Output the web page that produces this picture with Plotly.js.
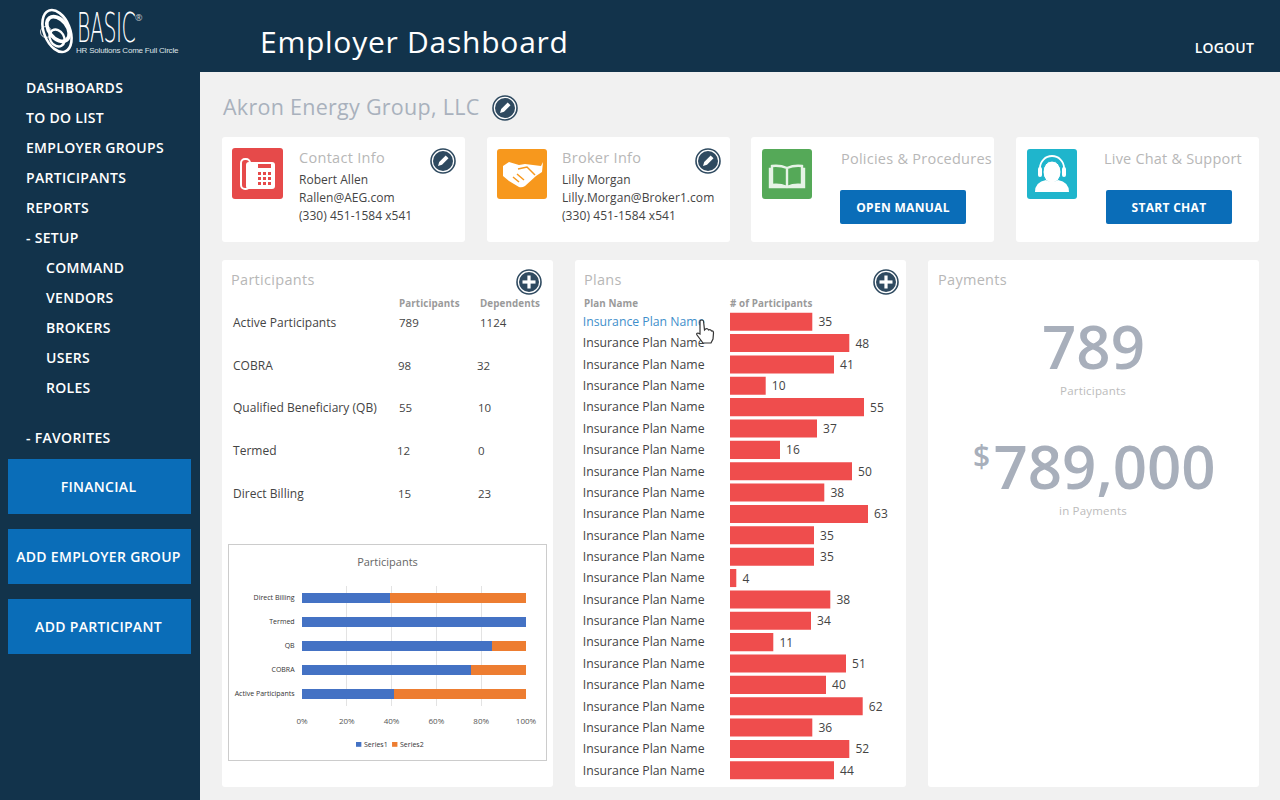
<!DOCTYPE html>
<html><head><meta charset="utf-8">
<script src="https://cdn.plot.ly/plotly-3.0.1.min.js"></script>
<style>
html,body{margin:0;padding:0;width:1280px;height:800px;overflow:hidden;background:#f1f1f1;font-family:"Open Sans",sans-serif;}
.a{position:absolute;white-space:nowrap;line-height:1;}
.btn{position:absolute;background:#0a6db8;color:#fff;display:flex;align-items:center;justify-content:center;font-weight:600;border-radius:2px;}
#plans,#mini{position:absolute;}
</style></head><body>
<div id="root"></div>
<div id="plans"></div>
<div id="mini"></div>
<script>
// ---- Chart data ----
const groupNames = ["Active Participants","COBRA","QB","Termed","Direct Billing"];
const participantCounts = [789,98,55,12,15];
const dependentCounts = [1124,32,10,0,23];
const rowLabels = ["Active Participants","COBRA","Qualified Beneficiary (QB)","Termed","Direct Billing"];
const planLabels = [35,48,41,10,55,37,16,50,38,63,35,35,4,38,34,11,51,40,62,36,52,44];
const planBarLengths = [82.3,119.3,104,35.7,134,87,50,122,94.3,138,84,84,6.3,100.3,81,43.3,116,96,132.7,82.3,119.3,104];
const planName = "Insurance Plan Name";
const percentTicks = [0,20,40,60,80,100];
const seriesNames = ["Series1","Series2"];
const seriesColors = ["#4472c4","#ed7d31"];
const navMain = ["DASHBOARDS","TO DO LIST","EMPLOYER GROUPS","PARTICIPANTS","REPORTS"];
const navSetup = ["COMMAND","VENDORS","BROKERS","USERS","ROLES"];
const sideButtons = ["FINANCIAL","ADD EMPLOYER GROUP","ADD PARTICIPANT"];

// ---- Page chrome ----
const root = document.getElementById('root');
function box(x,y,w,h,bg,r){const d=document.createElement('div');d.style.cssText=`position:absolute;left:${x}px;top:${y}px;width:${w}px;height:${h}px;background:${bg};border-radius:${r||0}px;`;root.appendChild(d);return d;}
function txt(s,x,cy,size,color,opt){opt=opt||{};const d=document.createElement('div');d.className='a';d.textContent=s;
 d.style.cssText=`left:${x}px;top:${cy}px;font-size:${size}px;color:${color};font-weight:${opt.w||400};letter-spacing:${opt.ls||0}px;transform:translate(${opt.anchor==='m'?'-50%':opt.anchor==='r'?'-100%':'0'},-50%);font-family:${opt.f||'"Open Sans",sans-serif'};`;
 root.appendChild(d);return d;}
function svg(x,y,w,h,inner){const d=document.createElement('div');d.style.cssText=`position:absolute;left:${x}px;top:${y}px;width:${w}px;height:${h}px;`;
 d.innerHTML=`<svg width="${w}" height="${h}" viewBox="0 0 ${w} ${h}" xmlns="http://www.w3.org/2000/svg">${inner}</svg>`;root.appendChild(d);return d;}
const NAVY='#12334b';
box(0,0,1280,72,NAVY); box(0,72,200,728,NAVY);

// logo
svg(38,5,40,52,`<g fill="none" stroke="#fff">
<ellipse cx="19" cy="26" rx="13" ry="22" stroke-width="2.6" transform="rotate(-22 19 26)"/>
<ellipse cx="20" cy="24" rx="9" ry="14" stroke-width="3.6" transform="rotate(-38 20 24)"/>
<ellipse cx="19" cy="33" rx="7" ry="9" stroke-width="2.4" transform="rotate(-30 19 33)"/>
<circle cx="8" cy="27" r="5.5" stroke-width="1" opacity=".8"/></g>`);
const logoWord=txt("BASIC",77,28,41,'#fff',{f:'"DejaVu Sans",sans-serif',w:200,ls:-1});
logoWord.style.transform='translate(0,-50%) scaleX(.5)';logoWord.style.transformOrigin='left center';
txt("®",135,17,9,'#ccc');
txt("HR Solutions Come Full Circle",76,51,8,'#dfe4e8',{f:'"Liberation Sans",sans-serif',ls:-.2});

txt("Employer Dashboard",260,42,30,'#fff',{ls:.75});
txt("LOGOUT",1254,48,14,'#fff',{w:600,anchor:'r',ls:.2});

// nav
const navOpt={w:600,ls:.3};
navMain.forEach((s,i)=>txt(s,26,88+30*i,14,'#fff',navOpt));
txt("- SETUP",26,238,14,'#fff',navOpt);
navSetup.forEach((s,i)=>txt(s,46,268+30*i,14,'#fff',navOpt));
txt("- FAVORITES",26,438,14,'#fff',navOpt);
sideButtons.forEach((s,i)=>{const b=box(8,459+70*i,183,55,'#0a6db8');b.className='btn';b.textContent=s;b.style.fontSize='14px';b.style.letterSpacing='.3px';b.style.paddingRight='2px';b.style.width='181px';});

// heading
txt("Akron Energy Group, LLC",223,107,21.5,'#a9b1bd',{ls:.27});
function roundIcon(cx,cy,kind,r){r=r||13;
 const glyph = kind==='pen'
  ? `<path d="M${r-5} ${r+5} l1.2 -4 l6.5 -6.5 l2.8 2.8 l-6.5 6.5 z" fill="#fff"/>`
  : `<rect x="${r-6.5}" y="${r-1.6}" width="13" height="3.2" fill="#fff"/><rect x="${r-1.6}" y="${r-6.5}" width="3.2" height="13" fill="#fff"/>`;
 svg(cx-r,cy-r,2*r,2*r,`<circle cx="${r}" cy="${r}" r="${r-1}" fill="#fff" stroke="#2f4a60" stroke-width="1.6"/><circle cx="${r}" cy="${r}" r="${r-3}" fill="#2f4a60"/>${glyph}`);
}
roundIcon(505,108,'pen');

// top cards
[[222,243],[487,243],[751,243],[1016,243]].forEach(c=>box(c[0],137,c[1],105,'#fff',3));
box(232,148,51,51,'#e64a4a',3); box(497,149,50,50,'#f7981d',3); box(762,149,50,50,'#55a958',3); box(1027,149,50,50,'#1fb5cc',3);
svg(232,148,51,51,`<rect x="9" y="11" width="9" height="30" rx="4" fill="none" stroke="#fff" stroke-width="2"/><rect x="14" y="14" width="29" height="27" rx="3" fill="#fff"/><rect x="26" y="16" width="13" height="4" fill="#e64a4a"/>
<g fill="#e64a4a"><rect x="26" y="24" width="3" height="3"/><rect x="31" y="24" width="3" height="3"/><rect x="36" y="24" width="3" height="3"/><rect x="26" y="29" width="3" height="3"/><rect x="31" y="29" width="3" height="3"/><rect x="36" y="29" width="3" height="3"/><rect x="26" y="34" width="3" height="3"/><rect x="31" y="34" width="3" height="3"/><rect x="36" y="34" width="3" height="3"/></g>`);
svg(497,149,50,50,`<g fill="#fff"><path d="M6 17 l6 -4 l10 3 l6 -1 l16 2 l2 -4 l-1 10 l-6 4 l-11 10 q-3 2 -6 1 l-10 -6 l-6 -5 z"/></g><path d="M21 20 l9 -2 l8 8 M16 28 l6 5 M20 25 l7 6" stroke="#f7981d" stroke-width="1.5" fill="none"/>`);
svg(762,149,50,50,`<g fill="none" stroke="#e6f3e6" stroke-width="2.4"><path d="M25 19 q-7 -3 -15 -2 v19 q8 -1 15 2 q7 -3 15 -2 v-19 q-8 -1 -15 2 v19"/><path d="M10 20 h-2 v18 h34 v-18 h-2"/></g>`);
svg(1027,149,50,50,`<path d="M13 22 v-3 a12 12 0 0 1 24 0 v3" stroke="#fff" stroke-width="1.8" fill="none"/><rect x="11" y="18" width="4" height="10" rx="2" fill="#fff"/><rect x="35" y="18" width="4" height="10" rx="2" fill="#fff"/><ellipse cx="25" cy="23" rx="9" ry="11" fill="#fff" stroke="#1fb5cc"/><path d="M8 43 q0 -10 11 -12 q6 4 12 0 q11 2 11 12 z" fill="#fff"/>`);

txt("Contact Info",299,158,14.5,'#b7b7b7',{ls:.3});
["Robert Allen","Rallen@AEG.com","(330) 451-1584 x541"].forEach((s,i)=>txt(s,299,179.7+18*i,12,'#444',{ls:.03}));
roundIcon(443,161,'pen');
txt("Broker Info",562,158,14.5,'#b7b7b7',{ls:.3});
["Lilly Morgan","Lilly.Morgan@Broker1.com","(330) 451-1584 x541"].forEach((s,i)=>txt(s,562,179.7+18*i,12,'#444',{ls:.07}));
roundIcon(708,161,'pen');
txt("Policies & Procedures",841,159,14.5,'#b7b7b7',{ls:.25});
txt("Live Chat & Support",1104,159,14.5,'#b7b7b7',{ls:.2});
[[840,"OPEN MANUAL"],[1106,"START CHAT"]].forEach(b=>{const e=box(b[0],190,126,34,'#0a6db8',2);e.className='btn';e.textContent=b[1];e.style.fontSize='12px';e.style.fontWeight=700;e.style.letterSpacing='.3px';});

// panels
[222,575,928].forEach(x=>box(x,260,331,527,'#fff',3));
txt("Participants",231,280,14.5,'#b7b7b7',{ls:.3});
roundIcon(529,282,'plus');
txt("Participants",399,303.5,9.8,'#9a9a9a',{w:700,ls:.1});
txt("Dependents",480,303.5,9.8,'#9a9a9a',{w:700,ls:.1});
const rowY=[322.7,365.7,407.7,450.7,493.7], colA=[399,398,399,397,398], colB=[480,477,478,478,478];
rowLabels.forEach((s,i)=>{
  txt(s,233,rowY[i],12,'#444',{ls:.03});
  txt(String(participantCounts[i]),colA[i],rowY[i],11.5,'#444');
  txt(String(dependentCounts[i]),colB[i],rowY[i],11.5,'#444');
});
box(228,544,319,217,'#ccc'); box(229,545,317,215,'#fff');

txt("Plans",584,280,14.5,'#b7b7b7',{ls:.3});
roundIcon(886,282,'plus');
txt("Plan Name",584,303.5,9.8,'#9a9a9a',{w:700,ls:.1});
txt("# of Participants",730,303.5,9.8,'#9a9a9a',{w:700,ls:.1});

txt("Payments",938,280,14.5,'#b7b7b7',{ls:.3});
txt("789",1093.5,346,60,'#a8afbb',{w:600,anchor:'m'});
txt("Participants",1093,391,11.5,'#bcbcbc',{anchor:'m',ls:.2});
txt("$",973,456,30,'#a8afbb',{w:600});
txt("789,000",993.5,466,60,'#a8afbb',{w:600});
txt("in Payments",1093,511,11.5,'#bcbcbc',{anchor:'m',ls:.2});

// ---- Plans bar chart ----
const plansDiv=document.getElementById('plans');
plansDiv.style.cssText='left:575px;top:300px;width:331px;height:490px;';
const rowIdx=planLabels.map((_,i)=>i);
const ticks=rowIdx.map(i=>i===0?`<span style="color:#3f8fcb">${planName}</span>`:planName);
Plotly.newPlot(plansDiv,[{
  type:'bar',orientation:'h',x:planBarLengths,y:rowIdx,text:planLabels.map(v=>'\u00a0'+v),
  textposition:'outside',cliponaxis:false,textfont:{family:'"Open Sans",sans-serif',size:12,color:'#444'},
  marker:{color:'#ef4d4d'},hoverinfo:'skip'
}],{
  width:331,height:490,margin:{l:155,r:6,t:11.33,b:9.33},paper_bgcolor:'rgba(0,0,0,0)',plot_bgcolor:'rgba(0,0,0,0)',
  bargap:0.155,showlegend:false,
  xaxis:{range:[0,170],visible:false,fixedrange:true},
  yaxis:{range:[21.5,-0.5],tickmode:'array',tickvals:rowIdx,ticktext:ticks,showgrid:false,zeroline:false,showline:false,
    ticks:'outside',ticklen:22,tickcolor:'rgba(0,0,0,0)',tickfont:{family:'"Open Sans",sans-serif',size:12.25,color:'#444'},fixedrange:true}
},{displayModeBar:false,staticPlot:true});

// ---- Participants mini chart ----
const miniDiv=document.getElementById('mini');
miniDiv.style.cssText='left:229px;top:545px;width:317px;height:215px;';
const miniFont={family:'"Open Sans",sans-serif',size:8,color:'#555'};
const smallFont={family:'"Open Sans",sans-serif',size:7,color:'#333'};
// legend key: swatch left edges as fractions of the plot width
const legendSwatchX=[0.241,0.402];
Plotly.newPlot(miniDiv,[
 {type:'bar',orientation:'h',name:seriesNames[0],y:groupNames,x:participantCounts,marker:{color:seriesColors[0]},hoverinfo:'skip'},
 {type:'bar',orientation:'h',name:seriesNames[1],y:groupNames,x:dependentCounts,marker:{color:seriesColors[1]},hoverinfo:'skip'}
],{
  width:317,height:215,margin:{l:73,r:20,t:41,b:54},paper_bgcolor:'rgba(0,0,0,0)',plot_bgcolor:'rgba(0,0,0,0)',
  barmode:'stack',barnorm:'percent',bargap:0.6,showlegend:false,
  title:{text:'Participants',x:0.5,xref:'container',xanchor:'center',y:0.92,yref:'container',yanchor:'middle',font:{family:'"Open Sans",sans-serif',size:11,color:'#666'}},
  xaxis:{range:[0,100],tickmode:'array',tickvals:percentTicks,ticktext:percentTicks.map(v=>v+'%'),showgrid:true,gridcolor:'#e3e3e3',gridwidth:1,zeroline:false,
    tickfont:miniFont,ticks:'outside',ticklen:7,tickcolor:'rgba(0,0,0,0)',fixedrange:true},
  yaxis:{type:'category',categoryorder:'array',categoryarray:groupNames,showgrid:false,zeroline:false,showline:false,
    tickfont:smallFont,ticks:'outside',ticklen:5,tickcolor:'rgba(0,0,0,0)',fixedrange:true},
  shapes:legendSwatchX.map((x,i)=>({type:'rect',xref:'paper',yref:'paper',x0:x,x1:x+0.024,y0:-0.3,y1:-0.34,fillcolor:seriesColors[i],line:{width:0}})),
  annotations:legendSwatchX.map((x,i)=>({xref:'paper',yref:'paper',x:x+0.027,y:-0.32,xanchor:'left',yanchor:'middle',showarrow:false,text:seriesNames[i],font:smallFont}))
},{displayModeBar:false,staticPlot:true});

// hand cursor on top
const h=svg(694,318,22,26,`<path d="M6 3 q2 -2 3.5 0 l1 9 l1 -1 q2 -1 3 1 q2 -1 3 1 q2 -0.5 2 2 l-0.5 6 l-2 4 h-8 l-6 -8 q-1 -2 1 -2 l2 1 z" fill="#fff" stroke="#333" stroke-width="1.2"/>`);
h.style.zIndex=5;
</script></body></html>
